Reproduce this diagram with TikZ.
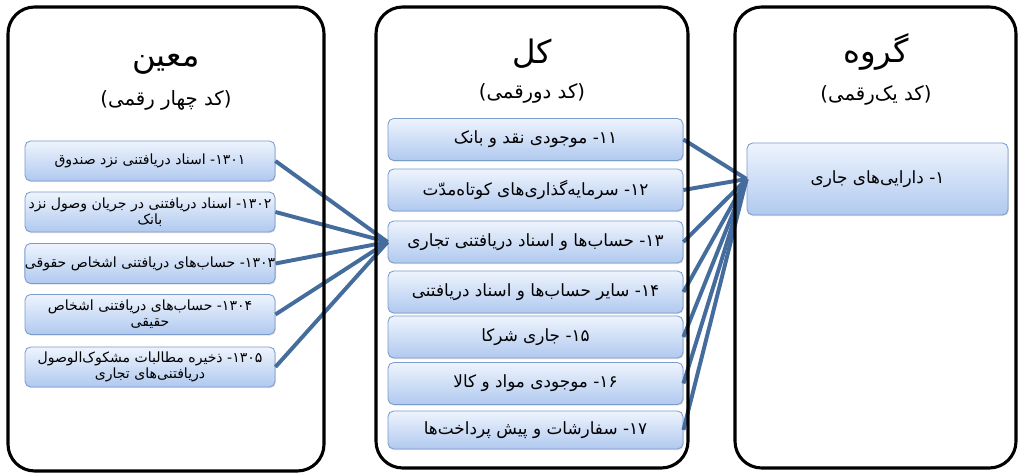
\documentclass[tikz,border=0pt]{standalone}
\usepackage{fontspec}
\newfontfamily\fa[Script=Arabic]{DejaVu Sans}
\TeXXeTstate=1
\usepackage{tikz}
\usetikzlibrary{shadows}
\definecolor{boxtop}{RGB}{238,244,253}
\definecolor{boxbot}{RGB}{176,201,239}
\definecolor{boxedge}{RGB}{122,155,204}
\definecolor{linkblue}{RGB}{68,108,156}
\newcommand{\rl}[1]{\beginR #1\endR}
\tikzset{
  panel/.style  ={draw, line width=2.2pt, rounded corners=19pt},
  ttl/.style    ={font=\fa\fontsize{23}{27}\selectfont},
  subttl/.style ={font=\fa\fontsize{14}{17}\selectfont},
  acc/.style    ={draw=boxedge, line width=0.6pt, rounded corners=4pt,
                  top color=boxtop, bottom color=boxbot, align=center,
                  inner sep=2pt,
                  drop shadow={opacity=0.25, shadow xshift=0.6pt,
                  shadow yshift=-0.8pt}},
  moin/.style   ={acc, minimum width=6.25cm, minimum height=1cm,
                  inner xsep=0pt, font=\fa\fontsize{10}{11.5}\selectfont},
  kol/.style    ={acc, minimum width=7.375cm, minimum height=1.05cm,
                  font=\fa\fontsize{12}{15}\selectfont},
  goruh/.style  ={acc, minimum width=6.525cm, minimum height=1.8cm,
                  font=\fa\fontsize{12}{15}\selectfont},
  link/.style   ={line width=2.8pt, linkblue},
}

\begin{document}
\begin{tikzpicture}
\useasboundingbox (0,0) rectangle (25.6,11.9);
% titles
\node[ttl] (tmoin) at (4.15,10.3) {\rl{معین}};
\node[subttl] (smoin) at (4.15,9.4) {\rl{(کد چهار رقمی)}};
\node[ttl] (tkol) at (13.3,10.55) {\rl{کل}};
\node[subttl] (skol) at (13.3,9.575) {\rl{(کد دورقمی)}};
\node[ttl] (tgoruh) at (21.9,10.6) {\rl{گروه}};
\node[subttl] (sgoruh) at (21.9,9.525) {\rl{(کد یک^^^^200cرقمی)}};
% moin accounts
\node[moin] (m1) at (3.75,7.875)
  {\rl{۱۳۰۱\kern0pt- اسناد دریافتنی نزد صندوق}};
\node[moin] (m2) at (3.75,6.6)
  {\rl{۱۳۰۲\kern0pt- اسناد دریافتنی در جریان وصول نزد}\\ \rl{بانک}};
\node[moin] (m3) at (3.75,5.3125)
  {\rl{۱۳۰۳\kern0pt- حساب^^^^200cهای دریافتنی اشخاص حقوقی}};
\node[moin] (m4) at (3.75,4.0375)
  {\rl{۱۳۰۴\kern0pt- حساب^^^^200cهای دریافتنی اشخاص}\\ \rl{حقیقی}};
\node[moin] (m5) at (3.75,2.725)
  {\rl{۱۳۰۵\kern0pt- ذخیره مطالبات مشکوک^^^^200cالوصول}\\
   \rl{دریافتنی^^^^200cهای تجاری}};
% kol accounts
\node[kol] (k11) at (13.3875,8.4125)
  {\rl{۱۱\kern0pt- موجودی نقد و بانک}};
\node[kol] (k12) at (13.3875,7.15)
  {\rl{۱۲\kern0pt- سرمایه^^^^200cگذاری^^^^200cهای کوتاه^^^^200cمدّت}};
\node[kol] (k13) at (13.3875,5.85)
  {\rl{۱۳\kern0pt- حساب^^^^200cها و اسناد دریافتنی تجاری}};
\node[kol] (k14) at (13.3875,4.6)
  {\rl{۱۴\kern0pt- سایر حساب^^^^200cها و اسناد دریافتنی}};
\node[kol] (k15) at (13.3875,3.475)
  {\rl{۱۵\kern0pt- جاری شرکا}};
\node[kol] (k16) at (13.3875,2.3125)
  {\rl{۱۶\kern0pt- موجودی مواد و کالا}};
\node[kol, minimum height=0.95cm] (k17) at (13.3875,1.15)
  {\rl{۱۷\kern0pt- سفارشات و پیش پرداخت^^^^200cها}};
% goruh
\node[goruh] (g1) at (21.9375,7.425)
  {\rl{۱\kern0pt- دارایی^^^^200cهای جاری}};
% links
\draw[link] (m1.east) -- (k13.west);
\draw[link] (m2.east) -- (k13.west);
\draw[link] (m3.east) -- (k13.west);
\draw[link] (m4.east) -- (k13.west);
\draw[link] (m5.east) -- (k13.west);
\draw[link] (k11.east) -- (g1.west);
\draw[link] (k12.east) -- (g1.west);
\draw[link] (k13.east) -- (g1.west);
\draw[link] (k14.east) -- (g1.west);
\draw[link] (k15.east) -- (g1.west);
\draw[link] (k16.east) -- (g1.west);
\draw[link] (k17.east) -- (g1.west);
% panels
\draw[panel] (0.2,0.125) rectangle (8.1,11.725);
\draw[panel] (9.4,0.2) rectangle (17.2,11.725);
\draw[panel] (18.375,0.2) rectangle (25.4,11.725);
\end{tikzpicture}
\end{document}
